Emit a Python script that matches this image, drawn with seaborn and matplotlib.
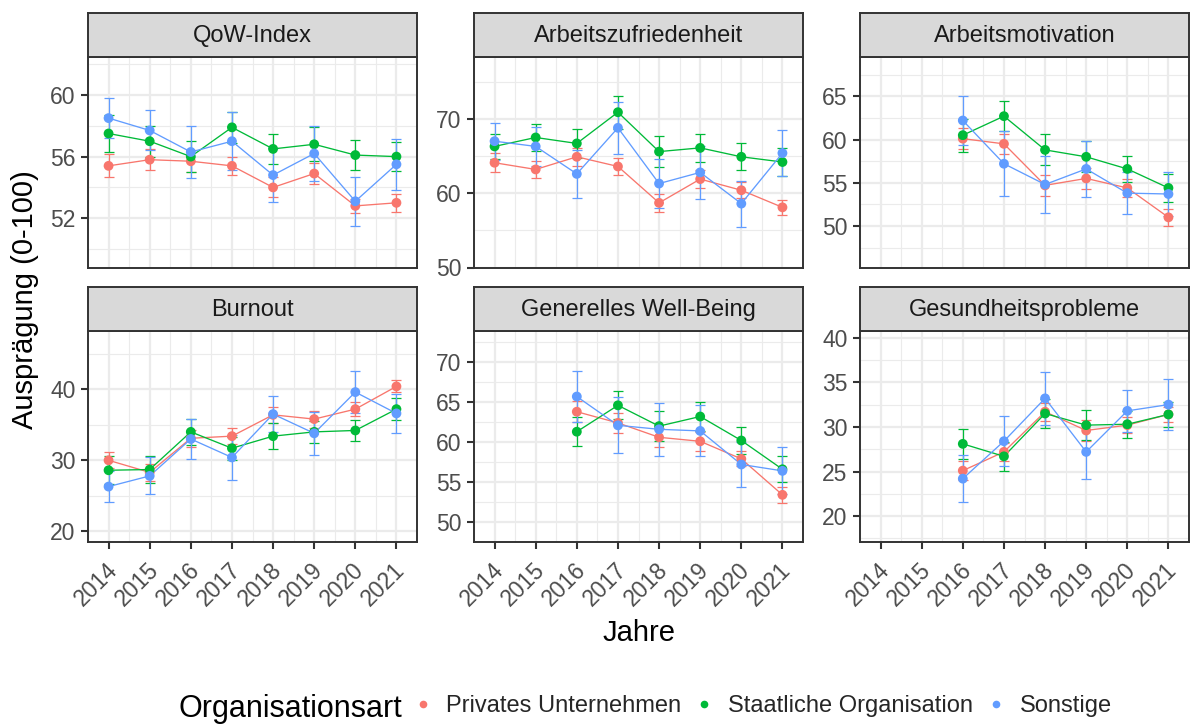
import numpy as np
import pandas as pd
import matplotlib
matplotlib.use("Agg")
import matplotlib.pyplot as plt
import matplotlib.transforms as mtransforms
from matplotlib.lines import Line2D
from matplotlib.ticker import MultipleLocator
import seaborn as sns

# ---- data: yearly means and half-widths of the error bars ----
years_all = [2014, 2015, 2016, 2017, 2018, 2019, 2020, 2021]
years_late = [2016, 2017, 2018, 2019, 2020, 2021]
groups = ["Privates Unternehmen", "Staatliche Organisation", "Sonstige"]
panels = ["QoW-Index", "Arbeitszufriedenheit", "Arbeitsmotivation",
          "Burnout", "Generelles Well-Being", "Gesundheitsprobleme"]

qow_priv = [55.4, 55.8, 55.7, 55.4, 54.0, 54.9, 52.8, 53.0]
qow_priv_err = [0.75, 0.7, 0.7, 0.6, 0.65, 0.7, 0.45, 0.6]
qow_staat = [57.5, 57.0, 56.0, 57.9, 56.5, 56.8, 56.1, 56.0]
qow_staat_err = [1.2, 1.0, 1.0, 1.0, 0.95, 1.1, 0.95, 0.95]
qow_sonst = [58.5, 57.7, 56.3, 57.0, 54.8, 56.2, 53.1, 55.5]
qow_sonst_err = [1.3, 1.3, 1.7, 1.9, 1.75, 1.8, 1.6, 1.65]

az_priv = [64.1, 63.2, 64.9, 63.6, 58.7, 61.9, 60.4, 58.1]
az_priv_err = [1.25, 1.2, 1.2, 1.15, 1.2, 1.2, 1.05, 1.05]
az_staat = [66.3, 67.5, 66.7, 70.9, 65.6, 66.1, 64.9, 64.2]
az_staat_err = [1.7, 1.8, 1.9, 2.2, 2.05, 1.9, 1.8, 1.85]
az_sonst = [67.0, 66.3, 62.6, 68.8, 61.3, 62.8, 58.6, 65.4]
az_sonst_err = [2.5, 2.6, 3.2, 3.5, 3.3, 3.6, 3.1, 3.15]

am_priv = [60.1, 59.5, 54.7, 55.5, 54.4, 51.0]
am_priv_err = [1.25, 1.15, 1.2, 1.25, 1.0, 0.95]
am_staat = [60.5, 62.7, 58.8, 58.0, 56.6, 54.4]
am_staat_err = [1.9, 1.7, 1.8, 1.8, 1.5, 1.6]
am_sonst = [62.2, 57.2, 54.8, 56.6, 53.8, 53.7]
am_sonst_err = [2.8, 3.75, 3.3, 3.25, 2.4, 2.6]

bo_priv = [30.0, 28.3, 33.1, 33.4, 36.4, 35.8, 37.2, 40.4]
bo_priv_err = [1.1, 1.2, 1.2, 1.15, 1.1, 1.2, 0.95, 0.85]
bo_staat = [28.6, 28.7, 34.0, 31.7, 33.4, 34.0, 34.2, 37.2]
bo_staat_err = [1.95, 1.95, 1.8, 1.6, 1.8, 1.55, 1.5, 1.5]
bo_sonst = [26.3, 27.8, 33.0, 30.4, 36.5, 33.8, 39.6, 36.6]
bo_sonst_err = [2.15, 2.6, 2.85, 3.2, 2.5, 3.0, 2.9, 2.7]

wb_priv = [63.8, 62.4, 60.6, 60.1, 57.9, 53.4]
wb_priv_err = [1.3, 1.25, 1.2, 1.2, 0.95, 1.0]
wb_staat = [61.3, 64.6, 62.0, 63.2, 60.2, 56.6]
wb_staat_err = [1.8, 1.75, 1.85, 1.8, 1.65, 1.6]
wb_sonst = [65.7, 62.1, 61.6, 61.4, 57.2, 56.4]
wb_sonst_err = [3.15, 3.5, 3.35, 3.2, 2.8, 2.95]

gp_priv = [25.1, 27.2, 31.7, 29.6, 30.2, 31.4]
gp_priv_err = [1.1, 1.0, 1.0, 1.15, 0.9, 0.8]
gp_staat = [28.1, 26.7, 31.5, 30.2, 30.3, 31.4]
gp_staat_err = [1.65, 1.6, 1.6, 1.7, 1.5, 1.4]
gp_sonst = [24.2, 28.4, 33.2, 27.2, 31.8, 32.5]
gp_sonst_err = [2.6, 2.8, 2.95, 3.0, 2.35, 2.85]

# y-axis settings per facet: limits and labelled ticks
y_limits = [(48.8, 62.5), (50.0, 78.4), (45.2, 69.6),
            (18.5, 48.2), (47.5, 73.9), (17.1, 40.75)]
y_ticks = [[52, 56, 60], [50, 60, 70], [50, 55, 60, 65],
           [20, 30, 40], [50, 55, 60, 65, 70], [20, 25, 30, 35, 40]]

panel_series = [
    (years_all, [qow_priv, qow_staat, qow_sonst], [qow_priv_err, qow_staat_err, qow_sonst_err]),
    (years_all, [az_priv, az_staat, az_sonst], [az_priv_err, az_staat_err, az_sonst_err]),
    (years_late, [am_priv, am_staat, am_sonst], [am_priv_err, am_staat_err, am_sonst_err]),
    (years_all, [bo_priv, bo_staat, bo_sonst], [bo_priv_err, bo_staat_err, bo_sonst_err]),
    (years_late, [wb_priv, wb_staat, wb_sonst], [wb_priv_err, wb_staat_err, wb_sonst_err]),
    (years_late, [gp_priv, gp_staat, gp_sonst], [gp_priv_err, gp_staat_err, gp_sonst_err]),
]

rows = []
for name, (yrs, means, errs) in zip(panels, panel_series):
    for g, m, e in zip(groups, means, errs):
        for yr, mv, ev in zip(yrs, m, e):
            rows.append({"Indikator": name, "Organisationsart": g,
                         "Jahr": yr, "Wert": mv, "Fehler": ev})
df = pd.DataFrame(rows)

palette = {"Privates Unternehmen": "#F8766D",
           "Staatliche Organisation": "#00BA38",
           "Sonstige": "#619CFF"}

# ---- style ----
sns.set_theme(style="white")
plt.rcParams["font.family"] = ["Liberation Sans", "DejaVu Sans"]

W, H = 1190, 724
fig = plt.figure(figsize=(W / 100, H / 100), dpi=100)
fig.patch.set_facecolor("white")

col_left = [88, 474, 860]
ax_w = 329
row_top = [56.5, 331]
ax_h = 211
strip_h = 44
dark = "#333333"
tick_col = "#4D4D4D"

def fig_rect(x, y_top, w, h):
    return [x / W, 1 - (y_top + h) / H, w / W, h / H]

label_shift = mtransforms.ScaledTranslation(-3 / 100, -7 / 100, fig.dpi_scale_trans)

for i, name in enumerate(panels):
    r, c = divmod(i, 3)
    ax = fig.add_axes(fig_rect(col_left[c], row_top[r], ax_w, ax_h))
    sub = df[df["Indikator"] == name]

    ax.set_facecolor("white")
    ax.set_xlim(2013.5, 2021.5)
    ax.set_ylim(*y_limits[i])
    ax.set_xticks(years_all)
    ax.xaxis.set_minor_locator(MultipleLocator(0.5))
    ax.set_yticks(y_ticks[i])
    step = y_ticks[i][1] - y_ticks[i][0]
    ax.yaxis.set_minor_locator(MultipleLocator(step / 2))
    ax.grid(which="major", color="#EBEBEB", linewidth=1.6)
    ax.grid(which="minor", color="#EBEBEB", linewidth=0.85)
    ax.set_axisbelow(True)

    # error bars first, then connecting lines, then points
    for g in groups:
        gd = sub[sub["Organisationsart"] == g]
        ax.errorbar(gd["Jahr"], gd["Wert"], yerr=gd["Fehler"], fmt="none",
                    ecolor=palette[g], elinewidth=0.9, capsize=3.6,
                    capthick=0.9, zorder=2)
    sns.lineplot(data=sub, x="Jahr", y="Wert", hue="Organisationsart",
                 hue_order=groups, palette=palette, linewidth=0.95,
                 legend=False, ax=ax, zorder=3)
    sns.scatterplot(data=sub, x="Jahr", y="Wert", hue="Organisationsart",
                    hue_order=groups, palette=palette, s=50, linewidth=0,
                    legend=False, ax=ax, zorder=4)

    ax.set_xlabel("")
    ax.set_ylabel("")
    for sp in ax.spines.values():
        sp.set_color(dark)
        sp.set_linewidth(1.4)
    ax.tick_params(axis="y", which="major", direction="out", length=5,
                   width=1.5, color=dark, labelsize=16.5, labelcolor=tick_col,
                   left=True, pad=4)
    ax.tick_params(which="minor", length=0)
    if r == 1:
        ax.tick_params(axis="x", which="major", direction="out", length=5,
                       width=1.5, color=dark, labelsize=16.5,
                       labelcolor=tick_col, bottom=True, pad=2)
        for lab in ax.get_xticklabels():
            lab.set_rotation(45)
            lab.set_ha("right")
            lab.set_va("top")
            lab.set_rotation_mode("anchor")
            lab.set_transform(lab.get_transform() + label_shift)
    else:
        ax.tick_params(axis="x", which="major", bottom=False, labelbottom=False)

    # facet strip
    sax = fig.add_axes(fig_rect(col_left[c], row_top[r] - strip_h, ax_w, strip_h))
    sax.set_facecolor("#D9D9D9")
    sax.set_xticks([])
    sax.set_yticks([])
    for sp in sax.spines.values():
        sp.set_color(dark)
        sp.set_linewidth(1.4)
    sax.text(0.5, 0.47, name, ha="center", va="center", fontsize=17,
             color="#1A1A1A", transform=sax.transAxes)

# axis titles
fig.text(33 / W, 1 - 300 / H, "Ausprägung (0-100)", rotation=90,
         rotation_mode="anchor", ha="center", va="baseline",
         fontsize=21, color="black")
fig.text(639 / W, 1 - 641 / H, "Jahre", ha="center", va="baseline",
         fontsize=21, color="black")

# legend at the bottom, title placed inline to the left
fig.text(179 / W, 1 - 717 / H, "Organisationsart", ha="left", va="baseline",
         fontsize=22, color="black")
handles = [Line2D([0], [0], marker="o", linestyle="", markersize=5.5,
                  markerfacecolor=palette[g], markeredgewidth=0)
           for g in groups]
fig.legend(handles, groups, loc="center left",
           bbox_to_anchor=(411 / W, 1 - 706 / H), ncol=3, frameon=False,
           fontsize=17, handletextpad=0.5, columnspacing=0.47,
           handlelength=1.0, borderaxespad=0, borderpad=0)

fig.savefig("out.png", dpi=100, facecolor="white")
